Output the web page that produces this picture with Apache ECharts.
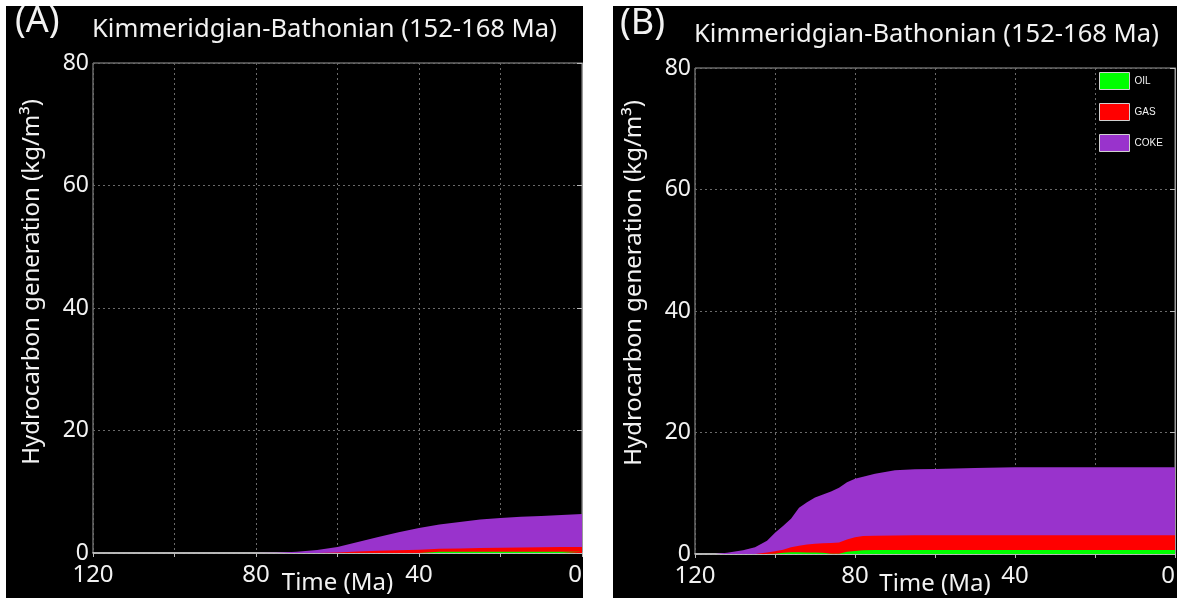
<!DOCTYPE html>
<html>
<head>
<meta charset="utf-8">
<script src="https://cdn.jsdelivr.net/npm/echarts@6/dist/echarts.min.js"></script>
<style>
  html, body { margin: 0; padding: 0; background: #fff; width: 1177px; height: 602px; overflow: hidden; }
  .panel { position: absolute; background: #000; }
  #chartA { left: 6px; top: 6px; width: 577px; height: 592px; }
  #chartB { left: 613px; top: 6px; width: 564px; height: 592px; }
</style>
</head>
<body>
<div id="chartA" class="panel"></div>
<div id="chartB" class="panel"></div>
<script>
// Shared text
const titleText = 'Kimmeridgian-Bathonian (152-168 Ma)';
const xAxisName = 'Time (Ma)';
const yAxisName = 'Hydrocarbon generation (kg/m\u00B3)';
const seriesNames = ['OIL', 'GAS', 'COKE'];
const seriesColors = ['#00ff00', '#ff0000', '#9933cc'];
const xLabelStep = 40;   // labelled ticks: 120, 80, 40, 0

// Panel A: layer thickness (kg/m3) at each time (Ma)
const timeA = [120, 100, 80, 75, 70, 65, 60, 55, 50, 45, 40, 35, 30, 25, 20, 15, 10, 5, 0];
const oilA  = [0, 0, 0, 0, 0, 0, 0, 0, 0, 0, 0, 0.2, 0.2, 0.2, 0.2, 0.2, 0.2, 0.2, 0.2];
const gasA  = [0, 0, 0, 0, 0, 0.02, 0.1, 0.25, 0.35, 0.45, 0.55, 0.5, 0.55, 0.6, 0.65, 0.7, 0.75, 0.8, 0.8];
const cokeA = [0, 0, 0, 0.05, 0.2, 0.48, 0.9, 1.55, 2.25, 2.95, 3.55, 3.95, 4.3, 4.65, 4.85, 5.0, 5.1, 5.2, 5.35];

// Panel B: layer thickness (kg/m3) at each time (Ma)
const timeB = [120, 115, 112, 108, 105, 102, 100, 98, 96, 94, 92, 90, 88, 86, 84, 82, 80, 78, 75, 70, 65, 60, 50, 40, 30, 20, 10, 0];
const oilB  = [0, 0, 0, 0, 0, 0, 0.05, 0.2, 0.28, 0.28, 0.25, 0.25, 0.2, 0.05, 0.05, 0.35, 0.5, 0.6, 0.65, 0.65, 0.65, 0.65, 0.65, 0.65, 0.65, 0.65, 0.65, 0.65];
const gasB  = [0, 0, 0, 0, 0.02, 0.25, 0.4, 0.5, 0.82, 1.07, 1.3, 1.45, 1.55, 1.75, 1.85, 2.05, 2.25, 2.35, 2.35, 2.4, 2.45, 2.45, 2.45, 2.45, 2.45, 2.45, 2.45, 2.45];
const cokeB = [0, 0, 0.2, 0.6, 1.08, 1.95, 3.05, 3.9, 4.7, 6.25, 6.95, 7.6, 8.05, 8.5, 9.0, 9.4, 9.65, 9.75, 10.2, 10.75, 10.85, 10.9, 11.05, 11.2, 11.2, 11.2, 11.2, 11.2];

const FONT = '"Noto Sans", "Open Sans", sans-serif';
const TEXT = '#f2f2f2';

function buildOption(cfg) {
  const layers = [cfg.oil, cfg.gas, cfg.coke];
  // cumulative tops of each layer (oil, oil+gas, oil+gas+coke)
  const tops = layers.map((_, k) =>
    cfg.time.map((t, i) => {
      let s = 0;
      for (let j = 0; j <= k; j++) s += layers[j][i];
      return [t, +s.toFixed(4)];
    })
  );
  // draw the tallest band first so the thinner ones sit on top of it
  const order = [2, 1, 0];
  return {
    animation: false,
    backgroundColor: '#000',
    textStyle: { fontFamily: FONT },
    graphic: [
      { type: 'text', left: cfg.tagLeft, top: cfg.tagTop,
        style: { text: cfg.tag, fill: TEXT, font: '36px ' + FONT } },
      { type: 'text', left: cfg.titleLeft, top: cfg.titleTop,
        style: { text: titleText, fill: TEXT, font: '25.6px ' + FONT } },
      { type: 'text', x: cfg.yNameX, y: cfg.yNameY, rotation: Math.PI / 2,
        style: { text: yAxisName, fill: TEXT, font: '24px ' + FONT, align: 'center', verticalAlign: 'middle' } }
    ],
    legend: {
      show: cfg.legend,
      data: seriesNames,
      orient: 'vertical',
      left: 481, top: 61,
      itemWidth: 30, itemHeight: 17, itemGap: 13,
      icon: 'rect',
      itemStyle: { borderColor: '#d0d0d0', borderWidth: 1 },
      textStyle: { color: TEXT, fontSize: 10, fontFamily: '"Liberation Sans", Arial, sans-serif' }
    },
    grid: Object.assign({ show: true, borderColor: '#9a9a9a', borderWidth: 1, containLabel: false, outerBoundsMode: 'none' }, cfg.grid),
    xAxis: {
      type: 'value', min: 0, max: 120, interval: 20, inverse: true,
      name: xAxisName, nameLocation: 'middle', nameGap: 18, nameMoveOverlap: false,
      nameTextStyle: { color: TEXT, fontSize: 24, fontFamily: FONT },
      axisLine: { lineStyle: { color: '#d8d8d8', width: 1.5 } },
      axisTick: { show: true, length: 4, lineStyle: { color: '#bbb' } },
      axisLabel: {
        color: TEXT, fontSize: 24, margin: 10, fontFamily: FONT,
        formatter: v => (v % xLabelStep === 0 ? String(v) : ''),
        alignMinLabel: 'right'
      },
      splitLine: { show: true, lineStyle: { color: '#6a6a6a', type: [2, 3], width: 1 } }
    },
    yAxis: {
      type: 'value', min: 0, max: 80, interval: 20,
      axisLine: { show: true, lineStyle: { color: '#9a9a9a' } },
      axisTick: { show: true, length: 5, lineStyle: { color: '#bbb' } },
      axisLabel: { color: TEXT, fontSize: 23, margin: 4, fontFamily: FONT },
      splitLine: { show: true, lineStyle: { color: '#6a6a6a', type: [2, 3], width: 1 } }
    },
    series: order.map(k => ({
      name: seriesNames[k], type: 'line',
      symbol: 'none', showSymbol: false,
      color: seriesColors[k],
      lineStyle: { width: 0 },
      areaStyle: { color: seriesColors[k], opacity: 1 },
      data: tops[k]
    }))
  };
}

echarts.init(document.getElementById('chartA')).setOption(buildOption({
  time: timeA, oil: oilA, gas: gasA, coke: cokeA,
  tag: '(A)', tagLeft: 9, tagTop: -2,
  titleLeft: 86, titleTop: 11,
  yNameX: 26, yNameY: 276,
  legend: false,
  grid: { left: 87, top: 57, right: 1, bottom: 45 }
}));

echarts.init(document.getElementById('chartB')).setOption(buildOption({
  time: timeB, oil: oilB, gas: gasB, coke: cokeB,
  tag: '(B)', tagLeft: 7, tagTop: 0,
  titleLeft: 81, titleTop: 16,
  yNameX: 21, yNameY: 277,
  legend: true,
  grid: { left: 82, top: 62, right: 2, bottom: 44 }
}));
</script>
</body>
</html>
